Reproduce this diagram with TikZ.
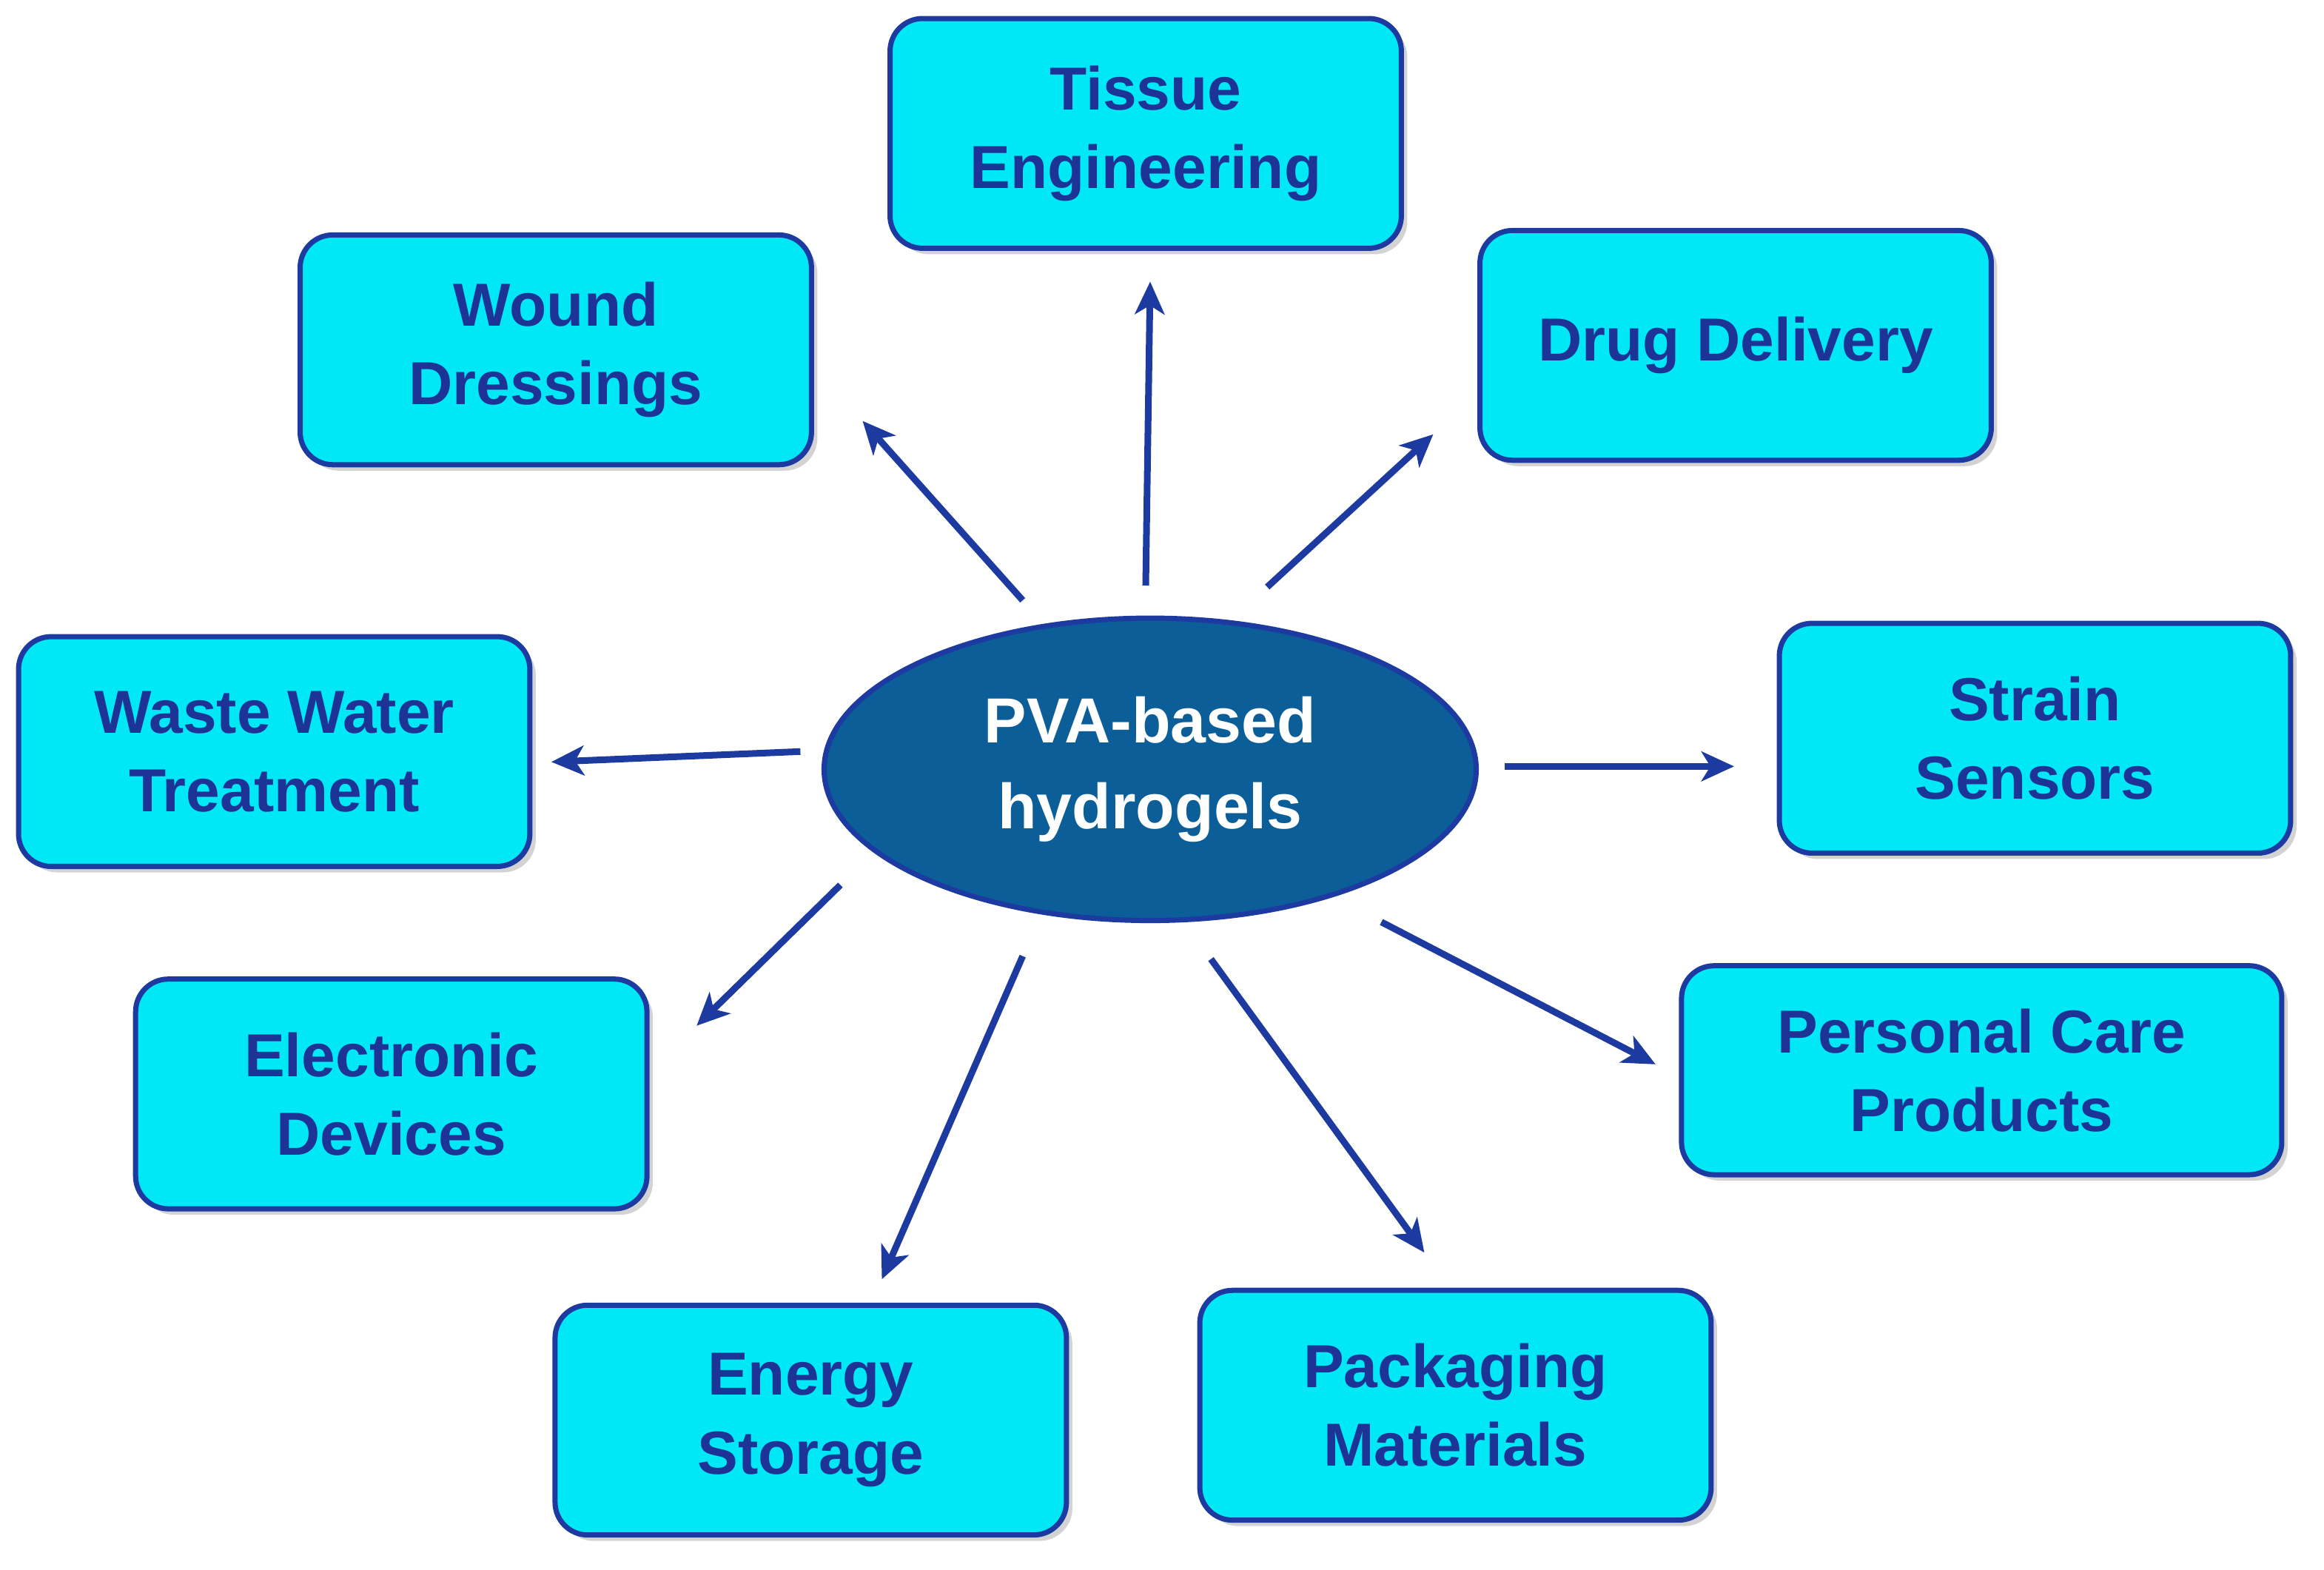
\documentclass[tikz,border=0pt]{standalone}
\usepackage{fontspec}
\setmainfont{Liberation Sans}
\usetikzlibrary{shapes.geometric,shadows,arrows.meta}
\definecolor{boxfill}{HTML}{00E8F6}
\definecolor{boxline}{HTML}{1C3AA0}
\definecolor{txt}{HTML}{1E3396}
\definecolor{ellfill}{HTML}{0B5E97}
\tikzset{
 box/.style={draw=boxline,line width=3.5pt,fill=boxfill,rounded corners=22pt,minimum width=345pt,minimum height=155pt,align=center,text=txt,font=\fontsize{41}{53}\selectfont\bfseries,drop shadow={shadow xshift=4pt,shadow yshift=-4pt,opacity=0.35}},
 arr/.style={draw=boxline,line width=4.5pt,-{Stealth[length=22pt,width=20pt,inset=6pt]}}
}
\begin{document}
\begin{tikzpicture}[x=1pt,y=-1pt]
\useasboundingbox (0,0) rectangle (1568,1059);
\node[box] (te) at (773,90) {Tissue\\Engineering};
\node[box] (wd) at (375,236) {Wound\\Dressings};
\node[box] (dd) at (1171,233) {Drug Delivery};
\node[box] (ww) at (185,507) {Waste Water\\Treatment};
\node[box] (ss) at (1373,498) {Strain\\Sensors};
\node[box] (ed) at (264,738) {Electronic\\Devices};
\node[box,minimum width=405pt,minimum height=141pt] (pc) at (1337,722) {Personal Care\\Products};
\node[box] (es) at (547,958) {Energy\\Storage};
\node[box] (pm) at (982,948) {Packaging\\Materials};
\node[ellipse,draw=boxline,line width=3.5pt,fill=ellfill,minimum width=440pt,minimum height=204pt,align=center,text=white,font=\fontsize{43}{58}\selectfont\bfseries] (c) at (776,519) {PVA-based\\hydrogels};
\coordinate (s1) at (773,395); \coordinate (e1) at (776,190);
\coordinate (s2) at (690,405); \coordinate (e2) at (582,284);
\coordinate (s3) at (855,396); \coordinate (e3) at (967,293);
\coordinate (s4) at (540,507); \coordinate (e4) at (372,514);
\coordinate (s5) at (1015,517); \coordinate (e5) at (1170,517);
\coordinate (s6) at (567,597); \coordinate (e6) at (470,692);
\coordinate (s7) at (932,622); \coordinate (e7) at (1117,718);
\coordinate (s8) at (690,645); \coordinate (e8) at (595,863);
\coordinate (s9) at (817,647); \coordinate (e9) at (961,845);
\foreach \i in {1,...,9} \draw[arr] (s\i) -- (e\i);
\end{tikzpicture}
\end{document}
